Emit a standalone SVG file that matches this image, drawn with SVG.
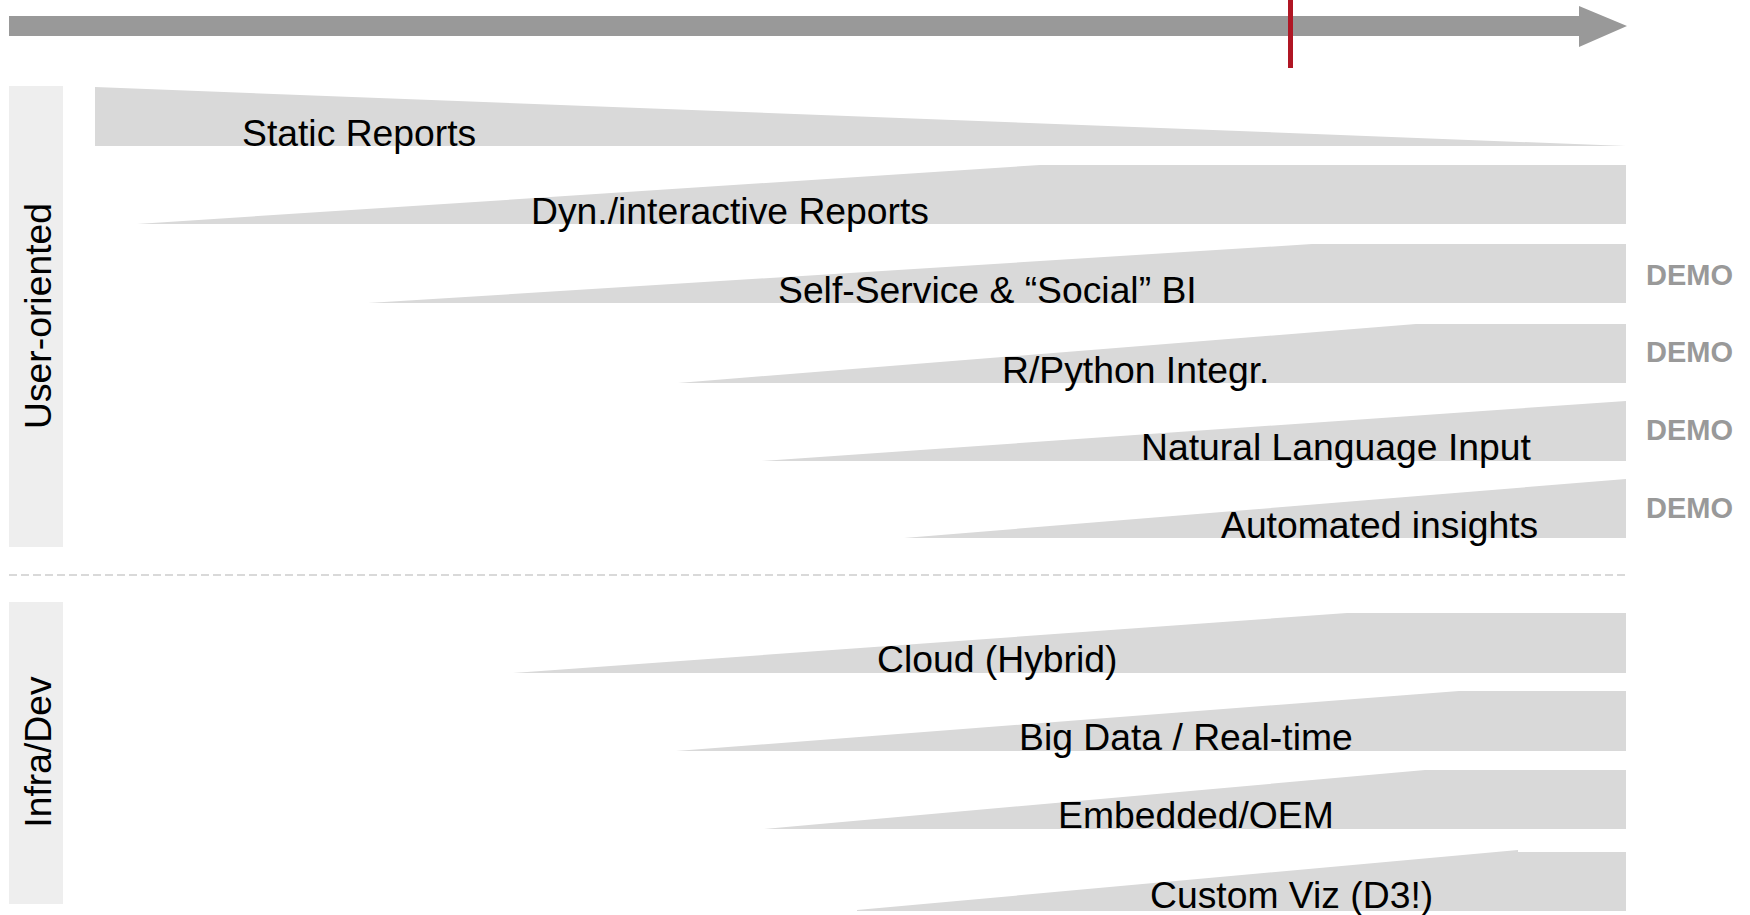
<svg xmlns="http://www.w3.org/2000/svg" width="1750" height="915" viewBox="0 0 1750 915">
<style>
.band{fill:#d9d9d9}
.lane{fill:#eeeeee}
.lbl{font-family:"Liberation Sans",Arial,sans-serif;font-size:37.3px;fill:#000}
.demo{font-family:"Liberation Sans",Arial,sans-serif;font-size:29px;font-weight:bold;fill:#999999}
</style>
<rect width="1750" height="915" fill="#ffffff"/>
<g id="timeline">
  <polygon points="9,16 1579,16 1579,6 1627,26 1579,47 1579,36 9,36" fill="#999999"/>
  <rect id="now-marker" x="1288" y="0" width="5" height="68" fill="#b01624"/>
</g>
<g id="connectors">
  <line x1="9" y1="575" x2="1626" y2="575" stroke="#d9d9d9" stroke-width="2" stroke-dasharray="8 4"/>
</g>
<g id="lane-user">
  <rect class="lane" x="9" y="86" width="54" height="461"/>
  <text class="lbl" text-anchor="middle" transform="translate(51,316) rotate(-90)">User-oriented</text>
</g>
<g id="lane-infra">
  <rect class="lane" x="9" y="602" width="54" height="302"/>
  <text class="lbl" text-anchor="middle" transform="translate(51,752) rotate(-90)">Infra/Dev</text>
</g>
<g id="static-reports">
  <polygon class="band" points="95,87 1626,146 95,146"/>
  <text class="lbl" x="242" y="146">Static Reports</text>
</g>
<g id="dyn-reports">
  <polygon class="band" points="137,224 1040,165 1626,165 1626,224"/>
  <text class="lbl" x="531" y="224">Dyn./interactive Reports</text>
</g>
<g id="self-service">
  <polygon class="band" points="368,303 1312,244 1626,244 1626,303"/>
  <text class="lbl" x="778" y="303">Self-Service &amp; “Social” BI</text>
  <text class="demo" x="1646" y="285">DEMO</text>
</g>
<g id="r-python">
  <polygon class="band" points="678,383 1416,324 1626,324 1626,383"/>
  <text class="lbl" x="1002" y="383">R/Python Integr.</text>
  <text class="demo" x="1646" y="362">DEMO</text>
</g>
<g id="natural-language">
  <polygon class="band" points="762,461 1626,401 1626,461"/>
  <text class="lbl" x="1141" y="460">Natural Language Input</text>
  <text class="demo" x="1646" y="440">DEMO</text>
</g>
<g id="automated-insights">
  <polygon class="band" points="904,538 1626,479 1626,538"/>
  <text class="lbl" x="1221" y="538">Automated insights</text>
  <text class="demo" x="1646" y="518">DEMO</text>
</g>
<g id="cloud">
  <polygon class="band" points="513,673 1347,613 1626,613 1626,673"/>
  <text class="lbl" x="877" y="672">Cloud (Hybrid)</text>
</g>
<g id="big-data">
  <polygon class="band" points="676,751 1459,691 1626,691 1626,751"/>
  <text class="lbl" x="1019" y="750">Big Data / Real-time</text>
</g>
<g id="embedded">
  <polygon class="band" points="764,829 1425,770 1626,770 1626,829"/>
  <text class="lbl" x="1058" y="828">Embedded/OEM</text>
</g>
<g id="custom-viz">
  <polygon class="band" points="857,910 1518,850 1518,852 1626,852 1626,911 857,911"/>
  <text class="lbl" x="1150" y="908">Custom Viz (D3!)</text>
</g>
</svg>
